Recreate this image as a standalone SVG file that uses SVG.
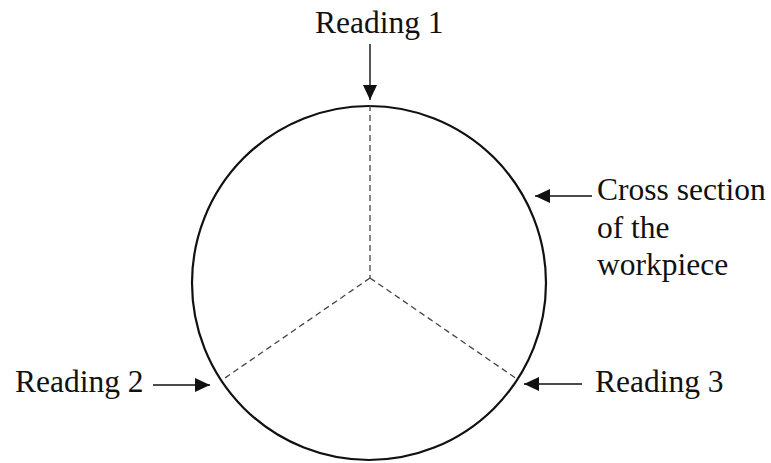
<svg xmlns="http://www.w3.org/2000/svg" width="771" height="463" viewBox="0 0 771 463">
<style>
text{font-family:"Liberation Serif","Times New Roman",serif;font-size:31.5px;fill:#111}
.arr{stroke:#111;stroke-width:1.4;fill:none}
.dash{stroke:#444;stroke-width:1.3;stroke-dasharray:6 4;fill:none}
</style>
<defs>
<marker id="ahb" viewBox="0 0 15 14" refX="15" refY="7" markerWidth="15" markerHeight="14" markerUnits="userSpaceOnUse" orient="auto">
<path d="M0,0 L15,7 L0,14 Z" fill="#111"/>
</marker>
</defs>
<rect width="771" height="463" fill="#fff"/>
<g id="workpiece">
<circle cx="369" cy="283" r="177" fill="none" stroke="#111" stroke-width="2.2"/>
<path class="dash" d="M370,105 L370,278 M370,278 L222,380 M370,278 L517,379"/>
</g>
<g id="reading1"><text x="315" y="33">Reading 1</text></g>
<g id="reading2"><text x="15" y="392">Reading 2</text></g>
<g id="reading3"><text x="595" y="392">Reading 3</text></g>
<g id="cross-section">
<text x="597" y="200">Cross section</text>
<text x="597" y="238">of the</text>
<text x="597" y="275">workpiece</text>
</g>
<g id="connectors">
<line class="arr" x1="370" y1="44" x2="370" y2="100" marker-end="url(#ahb)"/>
<line class="arr" x1="153" y1="385" x2="210" y2="385" marker-end="url(#ahb)"/>
<line class="arr" x1="582" y1="384" x2="524" y2="384" marker-end="url(#ahb)"/>
<line class="arr" x1="592" y1="196" x2="535" y2="196" marker-end="url(#ahb)"/>
</g>
</svg>
